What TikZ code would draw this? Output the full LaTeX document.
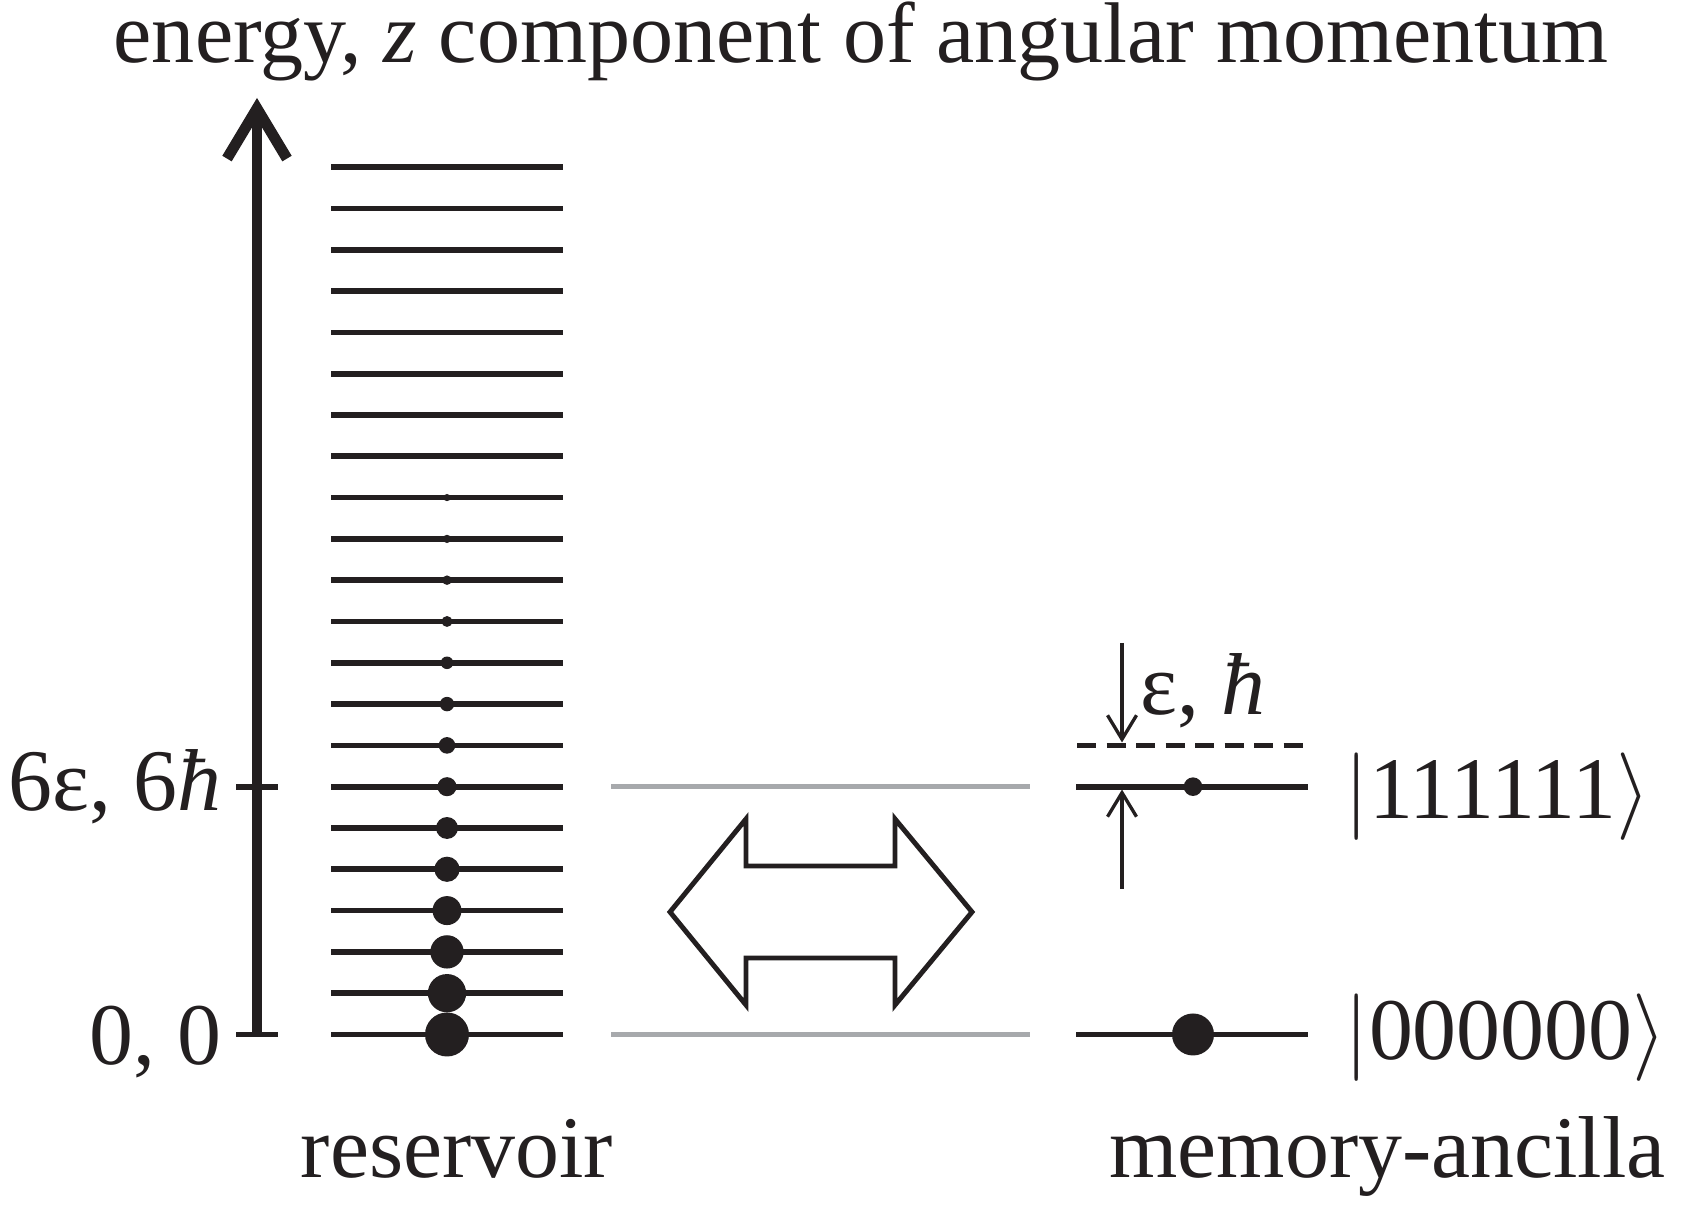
\documentclass[tikz,border=0pt]{standalone}
\usepackage{fontspec}
\setmainfont{Liberation Serif}
\usetikzlibrary{arrows.meta}
\definecolor{ink}{RGB}{35,31,32}
\definecolor{levelgrey}{RGB}{167,169,172}

\begin{document}
\begin{tikzpicture}[
    every node/.style={inner sep=0pt, text=ink, font=\fontsize{25}{30}\selectfont},
    lvl/.style={ink, line width=1.62pt},
    pop/.style={fill=ink},
    link/.style={levelgrey, line width=1.35pt},
    gaparrow/.style={ink, line width=0.95pt, -{Straight Barb[length=2.4mm, width=2.9mm]}},
    ket/.style={anchor=base west}
  ]
\useasboundingbox (0,0) rectangle (16.86,12.22);

\node[anchor=base, font=\fontsize{24.5}{29}\selectfont] (title) at (8.61,11.59) {energy, \textit{z} component of angular momentum};

\coordinate (origin) at (2.57,1.875);
\coordinate (axistop) at (2.57,11.24);
\draw[ink, line width=3.1pt, -{Straight Barb[length=5mm, width=6mm]}] (origin) -- (axistop);
\draw[lvl] (2.36,1.875) -- (2.78,1.875);
\draw[lvl] (2.36,4.353) -- (2.78,4.353);
\node[anchor=base east] (zero) at (2.22,1.57) {0, 0};
\node[anchor=base east] (six) at (2.22,4.11) {6ε, 6\textit{ħ}};

\foreach \n in {0,...,21}
  \draw[lvl] (3.31,{1.875+0.413*\n}) -- (5.63,{1.875+0.413*\n});
\foreach \n in {0,...,13}
  \fill[pop] (4.47,{1.875+0.413*\n}) circle ({0.22*0.87^\n});
\node[anchor=base] (reservoir) at (4.57,0.44) {reservoir};

\coordinate (res0) at (6.11,1.875);
\coordinate (mem0) at (10.30,1.875);
\coordinate (res6) at (6.11,4.353);
\coordinate (mem6) at (10.30,4.353);
\draw[link] (res0) -- (mem0);
\draw[link] (res6) -- (mem6);

\draw[ink, line width=1.4pt, line join=miter] (6.70,3.10) -- (7.46,4.03) -- (7.46,3.56) -- (8.95,3.56) -- (8.95,4.03) -- (9.72,3.10)
  -- (8.95,2.17) -- (8.95,2.64) -- (7.46,2.64) -- (7.46,2.17) -- cycle;

\draw[lvl] (10.76,1.875) -- (13.08,1.875);
\draw[lvl] (10.76,4.353) -- (13.08,4.353);
\draw[lvl, dash pattern=on 0.19cm off 0.105cm] (10.77,4.766) -- (13.03,4.766);
\fill[pop] (11.93,1.875) circle (0.21);
\fill[pop] (11.93,4.353) circle (0.093);

\coordinate (downtail) at (11.22,5.79);
\coordinate (dashtop) at (11.22,4.795);
\coordinate (uptail) at (11.22,3.33);
\coordinate (levelbottom) at (11.22,4.325);
\draw[gaparrow] (downtail) -- (dashtop);
\draw[gaparrow] (uptail) -- (levelbottom);
\node[anchor=base west] (quantum) at (11.40,5.07) {ε, \textit{ħ}};

\node[ket] (ones) at (13.44,4.03) {$|$111111$\rangle$};
\node[ket] (zeros) at (13.44,1.62) {$|$000000$\rangle$};
\node[anchor=base] (memory) at (13.875,0.44) {memory-ancilla};
\end{tikzpicture}
\end{document}
